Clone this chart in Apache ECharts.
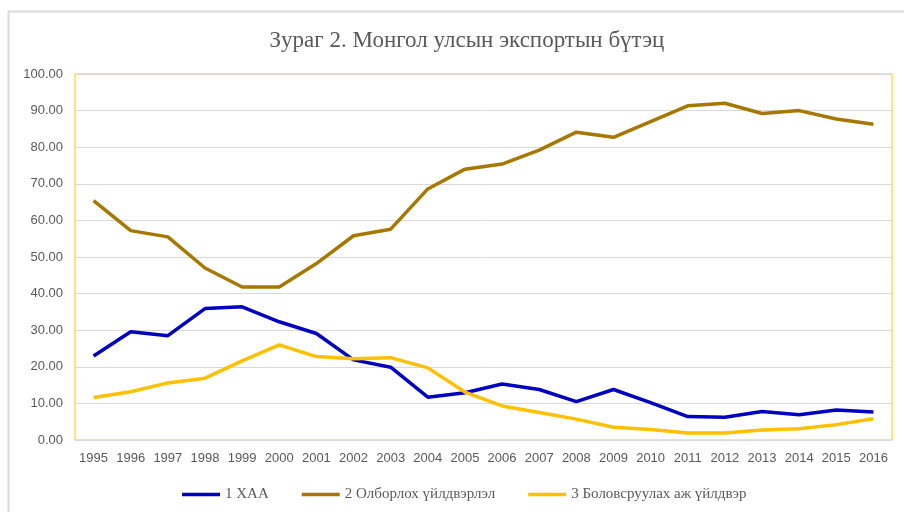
<!DOCTYPE html>
<html>
<head>
<meta charset="utf-8">
<script src="https://cdn.jsdelivr.net/npm/echarts@6/dist/echarts.min.js"></script>
<style>
html,body{margin:0;padding:0;background:#fff;}
#c{width:904px;height:512px;}
</style>
</head>
<body>
<div id="c"></div>
<script>
const categories = ['1995','1996','1997','1998','1999','2000','2001','2002','2003','2004','2005','2006','2007','2008','2009','2010','2011','2012','2013','2014','2015','2016'];
const agriculture = [22.95,29.6,28.5,35.9,36.4,32.3,29.1,21.9,19.9,11.7,12.9,15.3,13.8,10.5,13.8,10.2,6.4,6.2,7.8,6.9,8.2,7.65];
const mining = [65.4,57.2,55.5,47.0,41.8,41.8,48.2,55.8,57.6,68.6,74.0,75.4,79.2,84.1,82.7,87.0,91.3,92.0,89.2,90.0,87.7,86.3];
const manufacturing = [11.6,13.2,15.6,16.9,21.6,26.0,22.8,22.2,22.5,19.7,13.1,9.3,7.5,5.7,3.5,2.9,1.9,1.9,2.7,3.1,4.2,5.8];
const seriesNames = ['1 ХАА','2 Олборлох үйлдвэрлэл','3 Боловсруулах аж үйлдвэр'];
const titleText = 'Зураг 2. Монгол улсын экспортын бүтэц';

const chart = echarts.init(document.getElementById('c'), null, {renderer:'canvas'});
const labelColor = '#595959';
chart.setOption({
  animation:false,
  backgroundColor:'#fff',
  graphic:[{
    type:'rect', left:6, top:9, silent:true,
    shape:{width:1000,height:600},
    style:{fill:'none',stroke:'#d9d9d9',lineWidth:2}
  }],
  title:{
    text:titleText, left:462, top:24, textAlign:'center',
    textStyle:{fontFamily:'Liberation Serif',fontWeight:'normal',fontSize:23,color:labelColor}
  },
  legend:{
    top:482, left:177, itemGap:33, itemWidth:38, itemHeight:3.5, icon:'rect',
    textStyle:{fontFamily:'Liberation Serif',fontSize:15,color:labelColor},
    data:seriesNames
  },
  grid:{left:75,right:12,top:74,bottom:72,show:true,borderColor:'#FFCC00',borderWidth:1,backgroundColor:'#fff'},
  xAxis:{
    type:'category', data:categories, boundaryGap:true,
    axisLine:{show:true,lineStyle:{color:'#d9d9d9',width:1}},
    axisTick:{show:false},
    axisLabel:{color:labelColor,fontFamily:'Liberation Sans',fontSize:13,margin:12,interval:0}
  },
  yAxis:{
    type:'value', min:0, max:100, interval:10,
    axisLine:{show:false}, axisTick:{show:false},
    splitLine:{lineStyle:{color:'#d9d9d9',width:1}},
    axisLabel:{color:labelColor,fontFamily:'Liberation Sans',fontSize:13,margin:12,formatter:v=>v.toFixed(2)}
  },
  series:[
    {name:seriesNames[0],type:'line',data:agriculture,symbol:'none',lineStyle:{color:'#0000C0',width:3.5},itemStyle:{color:'#0000C0'}},
    {name:seriesNames[1],type:'line',data:mining,symbol:'none',lineStyle:{color:'#A67800',width:3.5},itemStyle:{color:'#A67800'}},
    {name:seriesNames[2],type:'line',data:manufacturing,symbol:'none',lineStyle:{color:'#FFC000',width:3.5},itemStyle:{color:'#FFC000'}}
  ]
});
</script>
</body>
</html>
